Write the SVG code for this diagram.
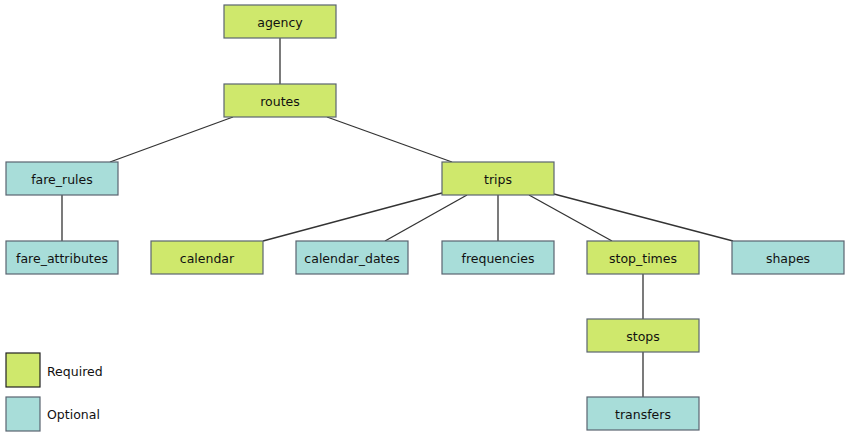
<svg xmlns="http://www.w3.org/2000/svg" width="850" height="439" viewBox="0 0 850 439">
<style>
.req{fill:#cfe86c;stroke:#5a6470;stroke-width:1.2}
.opt{fill:#a8ddd9;stroke:#5a6470;stroke-width:1.2}
text{font-family:"DejaVu Sans","Liberation Sans",Arial,sans-serif;font-size:12.5px;fill:#111;text-anchor:middle;dominant-baseline:central}
.lg{text-anchor:start}
.c line{stroke:#333;stroke-width:1.3}
</style>
<rect width="850" height="439" fill="#fff"/>
<g class="c" id="connectors">
<line x1="280" y1="38" x2="280" y2="84"/>
<line x1="233" y1="117" x2="110" y2="162"/>
<line x1="327" y1="117" x2="452" y2="162"/>
<line x1="62" y1="195" x2="62" y2="241"/>
<line x1="442" y1="193" x2="263" y2="241"/>
<line x1="467" y1="195" x2="385" y2="241"/>
<line x1="498" y1="195" x2="498" y2="241"/>
<line x1="529" y1="195" x2="612" y2="241"/>
<line x1="554" y1="194" x2="733" y2="241"/>
<line x1="643" y1="274" x2="643" y2="319"/>
<line x1="643" y1="352" x2="643" y2="397"/>
</g>
<g id="agency"><rect class="req" x="224" y="5" width="112" height="33"/><text x="280" y="22">agency</text></g>
<g id="routes"><rect class="req" x="224" y="84" width="112" height="33"/><text x="280" y="101">routes</text></g>
<g id="fare_rules"><rect class="opt" x="6" y="162" width="112" height="33"/><text x="62" y="179">fare_rules</text></g>
<g id="fare_attributes"><rect class="opt" x="6" y="241" width="112" height="33"/><text x="62" y="258">fare_attributes</text></g>
<g id="trips"><rect class="req" x="442" y="162" width="112" height="33"/><text x="498" y="179">trips</text></g>
<g id="calendar"><rect class="req" x="151" y="241" width="112" height="33"/><text x="207" y="258">calendar</text></g>
<g id="calendar_dates"><rect class="opt" x="296" y="241" width="112" height="33"/><text x="352" y="258">calendar_dates</text></g>
<g id="frequencies"><rect class="opt" x="442" y="241" width="112" height="33"/><text x="498" y="258">frequencies</text></g>
<g id="stop_times"><rect class="req" x="587" y="241" width="112" height="33"/><text x="643" y="258">stop_times</text></g>
<g id="shapes"><rect class="opt" x="732" y="241" width="112" height="33"/><text x="788" y="258">shapes</text></g>
<g id="stops"><rect class="req" x="587" y="319" width="112" height="33"/><text x="643" y="336">stops</text></g>
<g id="transfers"><rect class="opt" x="587" y="397" width="112" height="33"/><text x="643" y="414">transfers</text></g>
<g id="legend">
<rect class="req" x="6" y="353" width="34" height="34" style="stroke:#222"/>
<text class="lg" x="47" y="371">Required</text>
<rect class="opt" x="6" y="397" width="34" height="34"/>
<text class="lg" x="47" y="414">Optional</text>
</g>
</svg>
